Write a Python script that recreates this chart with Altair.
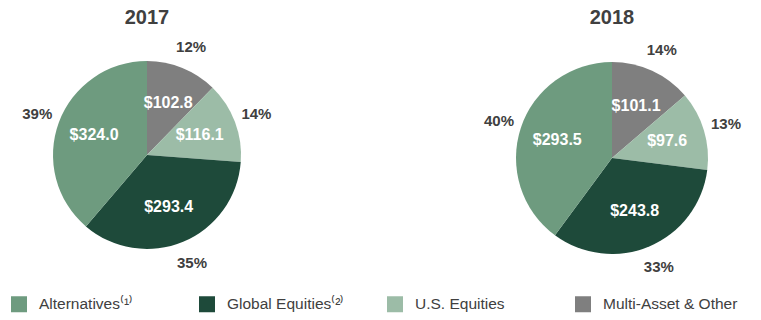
import altair as alt
import pandas as pd

# ---- data ----
categories = ["Multi-Asset & Other", "U.S. Equities", "Global Equities⁽²⁾", "Alternatives⁽¹⁾"]
legend_order = ["Alternatives⁽¹⁾", "Global Equities⁽²⁾", "U.S. Equities", "Multi-Asset & Other"]
legend_colors = ["#6E9B7F", "#1E4A3A", "#9CBCA7", "#7F7F7F"]
years = ["2017", "2018"]
values_2017 = [102.8, 116.1, 293.4, 324.0]
values_2018 = [101.1, 97.6, 243.8, 293.5]
amount_2017 = ["$102.8", "$116.1", "$293.4", "$324.0"]
amount_2018 = ["$101.1", "$97.6", "$243.8", "$293.5"]
pct_2017 = ["12%", "14%", "35%", "39%"]
pct_2018 = ["14%", "13%", "33%", "40%"]

rows = []
for yr, vals, amts, pcts in [("2017", values_2017, amount_2017, pct_2017),
                             ("2018", values_2018, amount_2018, pct_2018)]:
    for i, (c, v, a, p) in enumerate(zip(categories, vals, amts, pcts)):
        rows.append({"year": yr, "cat": c, "value": v, "amount": a, "pct": p, "order": i})
df = pd.DataFrame(rows)

FONT = "Liberation Sans"
DARK = "#404040"

color = alt.Color(
    "cat:N",
    scale=alt.Scale(domain=legend_order, range=legend_colors),
    legend=alt.Legend(
        title=None,
        orient="none",
        legendX=11,
        legendY=296,
        direction="horizontal",
        columns=4,
        gridAlign="all",
        columnPadding=25,
        symbolType="M-1,-1H1V1H-1Z",
        symbolSize=256,
        symbolStrokeWidth=0,
        symbolOpacity=1,
        labelFont=FONT,
        labelFontSize=15.5,
        labelColor=DARK,
        labelOffset=12,
        labelLimit=300,
    ),
)


def pie(year, cx, cy, r):
    base = alt.Chart(df).transform_filter(alt.datum.year == year)
    theta = alt.Theta("value:Q", stack=True)
    arc = base.mark_arc(x=cx, y=cy, radius=r, stroke=None).encode(
        theta=theta, color=color, order=alt.Order("order:Q")
    )
    inner = base.mark_text(
        x=cx, y=cy, radius=r * 0.6, font=FONT, fontSize=16, fontWeight="bold", color="white"
    ).encode(theta=theta, text="amount:N", order=alt.Order("order:Q"))
    outer = base.mark_text(
        x=cx, y=cy, radius=r + 23, font=FONT, fontSize=15, fontWeight="bold", color=DARK
    ).encode(theta=theta, text="pct:N", order=alt.Order("order:Q"))
    title = alt.Chart(pd.DataFrame({"year": [year]})).mark_text(
        x=cx, y=18, font=FONT, fontSize=20, fontWeight="bold", color=DARK
    ).encode(text="year:N")
    return alt.layer(arc, inner, outer, title)


chart = (
    alt.layer(pie(years[0], 147, 155, 94), pie(years[1], 612, 158, 96))
    .resolve_scale(theta="independent")
    .properties(width=761, height=320, padding=0, autosize=alt.AutoSizeParams(type="none"))
    .configure_view(stroke=None)
    .configure(background="white")
)

chart.save("out.html", embed_options={"renderer": "svg", "actions": False})
